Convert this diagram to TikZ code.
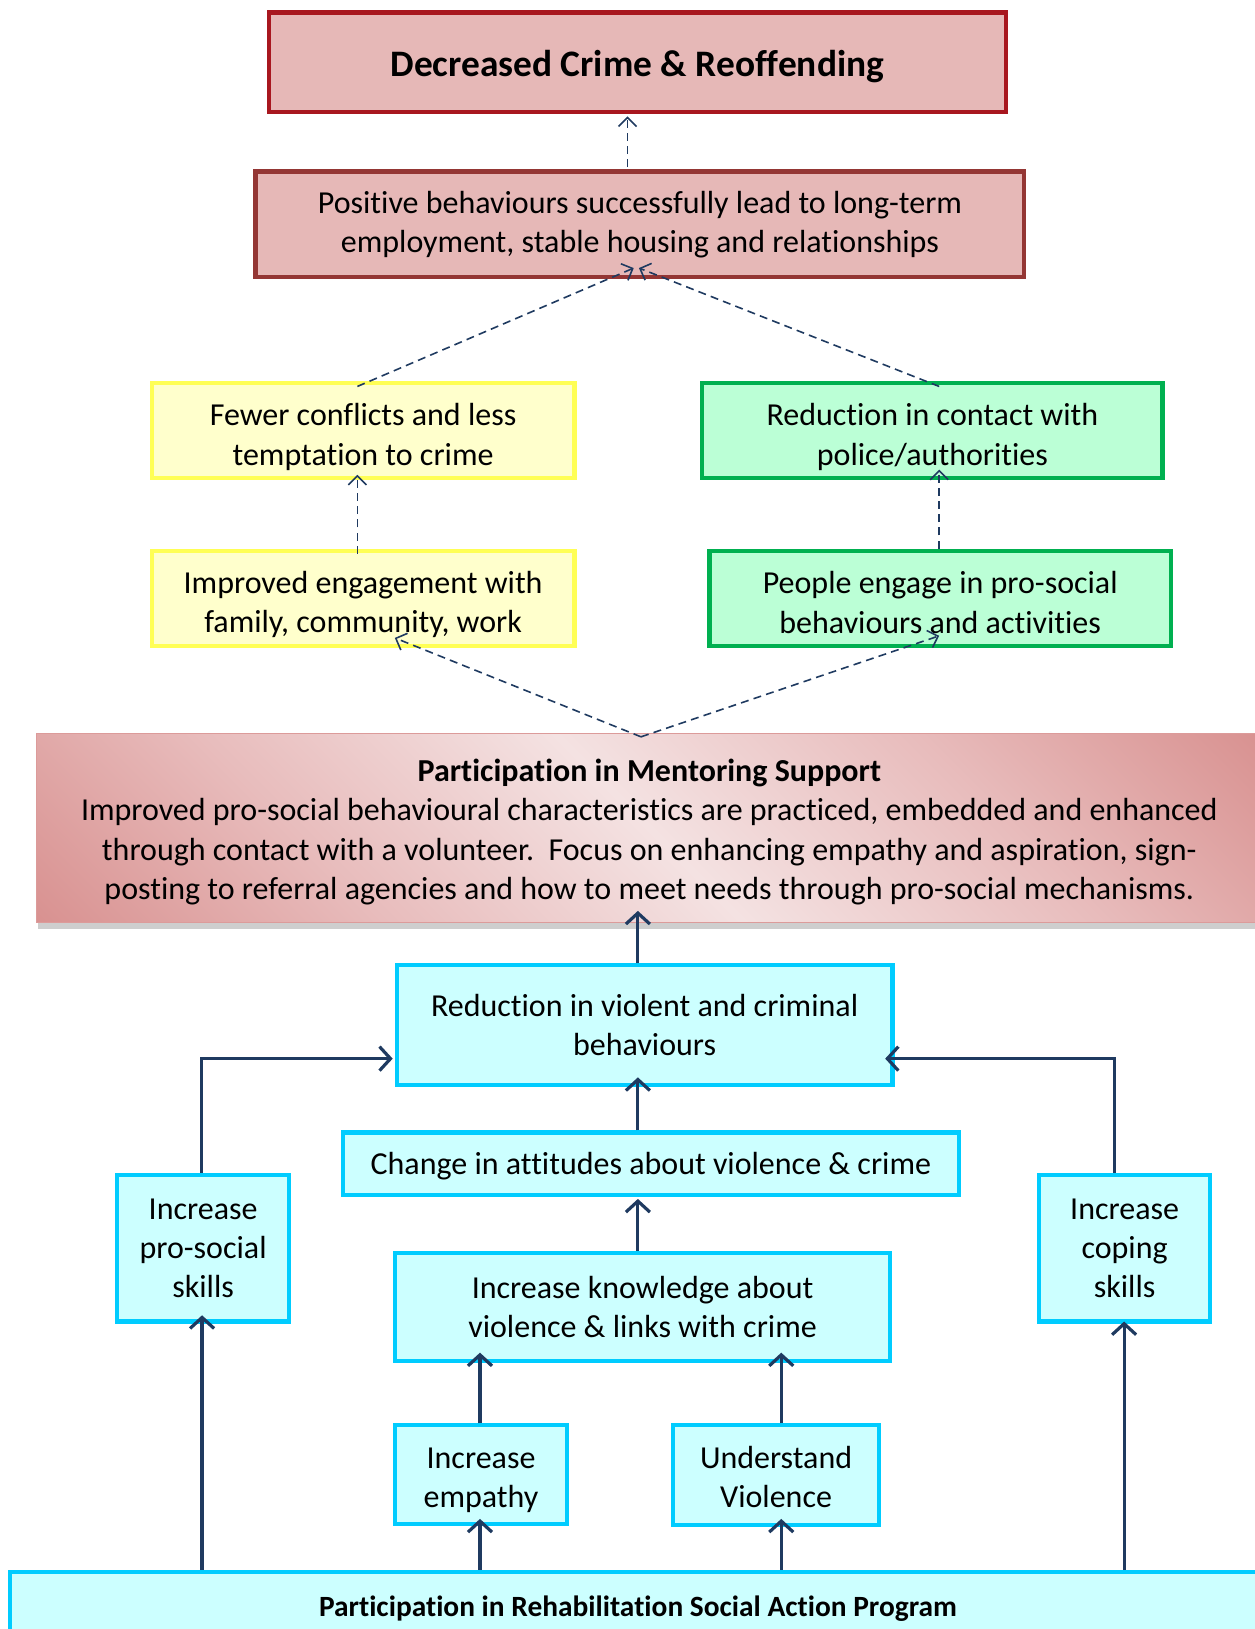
\documentclass[tikz,border=0pt]{standalone}
\usepackage{fontspec}
\setmainfont{Carlito}[Ligatures=CommonOff]
\usetikzlibrary{arrows.meta,calc,shadows}

\definecolor{navy}{HTML}{1F3A60}
\definecolor{topred}{HTML}{A8171F}
\definecolor{posred}{HTML}{943634}
\definecolor{pinkfill}{HTML}{E6B8B7}
\definecolor{yelline}{HTML}{FFFF55}
\definecolor{yelfill}{HTML}{FFFFCC}
\definecolor{grnline}{HTML}{00B050}
\definecolor{grnfill}{HTML}{BBFFD6}
\definecolor{cyline}{HTML}{00CCFF}
\definecolor{cyfill}{HTML}{CCFFFF}
\definecolor{mentdark}{HTML}{D8908F}
\definecolor{mentlight}{HTML}{F4E2E2}
\definecolor{mentmid}{HTML}{E8BCBC}

\pgfdeclareverticalshading{mentshade}{100bp}{color(0bp)=(mentdark); color(14bp)=(mentdark); color(32bp)=(mentmid); color(50bp)=(mentlight); color(68bp)=(mentmid); color(86bp)=(mentdark); color(100bp)=(mentdark)}

\begin{document}
\begin{tikzpicture}[x=0.5195pt,y=-0.5195pt,
  wh/.style 2 args={minimum width=#1*0.5195pt, minimum height=#2*0.5195pt},
  txtdown/.style={execute at begin node={\rule{0pt}{#1}}},
  boxtxt/.style={align=center, inner sep=0pt, font=\fontsize{16}{19.7}\selectfont},
  box/.style={draw, rectangle, align=center, inner sep=0pt, line width=2.1pt,
    font=\fontsize{16}{19.7}\selectfont},
  redbox/.style={box, draw=topred, fill=pinkfill},
  posbox/.style={box, draw=posred, fill=pinkfill},
  yelbox/.style={box, draw=yelline, fill=yelfill},
  grnbox/.style={box, draw=grnline, fill=grnfill},
  cybox/.style={box, draw=cyline, fill=cyfill},
  dasharrow/.style={draw=navy, line width=0.8pt, dash pattern=on 4pt off 2.6pt,
    -{Straight Barb[length=4.5pt,width=9pt]}},
  solidarrow/.style={draw=navy, line width=1.6pt,
    -{Straight Barb[length=5.5pt,width=12pt]}},
]
\useasboundingbox (0,0) rectangle (1208,1568);
\clip (0,0) rectangle (1208,1568);

% top outcomes
\node[redbox, wh={709}{96}, font=\fontsize{18.7}{22}\selectfont\bfseries, txtdown=17.3pt] (top) at (613.5,60) {Decreased Crime \& Reoffending};
\node[posbox, wh={740}{102}] (pos) at (616,216) {Positive behaviours successfully lead to long-term\\employment, stable housing and relationships};

% intermediate outcomes
\node[yelbox, wh={407}{91}, label={[boxtxt, yshift=-3.1pt]center:{Fewer conflicts and less\\temptation to crime}}] (fewer) at (349.5,414.5) {};
\node[grnbox, wh={443}{91}, label={[boxtxt, yshift=-3.1pt]center:{Reduction in contact with\\police/authorities}}] (contact) at (897.5,414.5) {};
\node[yelbox, wh={407}{92}, label={[boxtxt, yshift=-3.1pt]center:{Improved engagement with\\family, community, work}}] (improved) at (349.5,576) {};
\node[grnbox, wh={444}{92}, label={[boxtxt, yshift=-2.1pt]center:{People engage in pro-social\\behaviours and activities}}] (people) at (905,576) {};

% mentoring
\node[box, wh={1180}{182}, line width=0.8pt, draw=mentdark!90,
  shading=mentshade, shading angle=-45,
  drop shadow={shadow xshift=1pt, shadow yshift=-3pt, opacity=0.35, fill=black!55},
  label={[boxtxt, yshift=-2.1pt]center:{\textbf{Participation in Mentoring Support}\\
   Improved pro-social behavioural characteristics are practiced, embedded and enhanced\\
   through contact with a volunteer.\ \ Focus on enhancing empathy and aspiration, sign-\\
   posting to referral agencies and how to meet needs through pro-social mechanisms.}}] (mentor) at (625,797) {};

% program outcomes
\node[cybox, wh={477}{115}] (reduction) at (620.5,986.5) {Reduction in violent and criminal\\behaviours};
\node[cybox, wh={593}{60}, txtdown=14pt] (change) at (626.5,1120) {Change in attitudes about violence \& crime};
\node[cybox, wh={477}{104}] (knowledge) at (618.5,1258) {Increase knowledge about\\violence \& links with crime};
\node[cybox, wh={166}{95}, label={[boxtxt, yshift=-2.9pt]center:{Increase\\empathy}}] (empathy) at (463,1419.5) {};
\node[cybox, wh={198}{96}, label={[boxtxt, yshift=-1pt]center:{Understand\\Violence}}] (understand) at (747,1420) {};
\node[cybox, wh={165}{141}] (prosocial) at (195.5,1201.5) {Increase\\pro-social\\skills};
\node[cybox, wh={165}{141}] (coping) at (1082.5,1201.5) {Increase\\coping\\skills};

% program
\node[cybox, wh={1208}{64}, font=\fontsize{14.7}{17}\selectfont\bfseries, txtdown=14pt] (program) at (614,1545) {Participation in Rehabilitation Social Action Program};

% dashed connectors
\draw[dasharrow] ($(pos.north)+(-12,-2)$) -- ($(top.south)+(-9.5,2)$);
\draw[dasharrow] ($(fewer.north)+(-5.5,5)$) -- ($(pos.south)+(-6,-11)$);
\draw[dasharrow] ($(contact.north)+(6.5,5)$) -- ($(pos.south)+(-1,-11)$);
\draw[dasharrow] ($(improved.north)+(-5.5,5)$) -- ($(fewer.south)+(-5.5,-5)$);
\draw[dasharrow] ($(people.north)+(-1,0)$) -- ($(contact.south)+(6.5,-10)$);
\draw[dasharrow] ($(mentor.north)+(-8,4)$) -- ($(improved.south)+(30.5,-10)$);
\draw[dasharrow] ($(mentor.north)+(-8,4)$) -- ($(people.south)+(-1,-12)$);

% solid connectors
\draw[solidarrow] ($(reduction.north)+(-6.5,0)$) -- ($(mentor.south)+(-11,-12)$);
\draw[solidarrow] ($(change.north)+(-12.5,0)$) -- ($(reduction.south)+(-6.5,-9)$);
\draw[solidarrow] ($(knowledge.north)+(-4.5,0)$) -- ($(change.south)+(-12.5,2)$);
\draw[solidarrow] ($(empathy.north)+(-1,0)$) -- ($(knowledge.south)+(-156.5,-10)$);
\draw[solidarrow] ($(understand.north)+(5,0)$) -- ($(knowledge.south)+(133.5,-10)$);
\draw[solidarrow] ($(program.north)+(-419.5,0)$) -- ($(prosocial.south)+(-1,-8)$);
\draw[solidarrow] ($(program.north)+(-152,0)$) -- ($(empathy.south)+(-1,-7)$);
\draw[solidarrow] ($(program.north)+(138,0)$) -- ($(understand.south)+(5,-8)$);
\draw[solidarrow] ($(program.north)+(468,0)$) -- ($(coping.south)+(-0.5,-2)$);
\draw[solidarrow] ($(prosocial.north)+(-1.5,0)$) |- ($(reduction.west)+(-2,32.5)$);
\draw[solidarrow] ($(coping.north)+(-9.5,0)$) |- ($(reduction.east)+(-9,32.5)$);
\end{tikzpicture}
\end{document}
